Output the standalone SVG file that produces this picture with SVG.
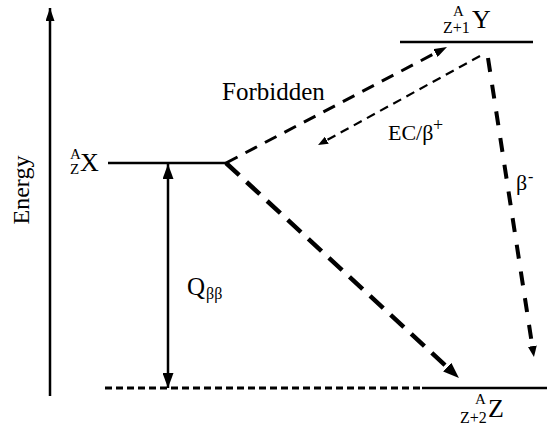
<svg xmlns="http://www.w3.org/2000/svg" width="547" height="428" viewBox="0 0 547 428">
<style>
text{font-family:"Liberation Serif","Times New Roman",serif;fill:#000}
.lvl{stroke:#000;stroke-width:2.5;fill:none}
.dash{stroke:#000;fill:none;stroke-linecap:butt}
</style>
<defs>
<marker id="ahQ" markerUnits="userSpaceOnUse" viewBox="0 0 15 11" refX="15" refY="5.5" markerWidth="15" markerHeight="11" orient="auto-start-reverse"><path d="M0,0 L15,5.5 L0,11 z" fill="#000"/></marker>
<marker id="ahE" markerUnits="userSpaceOnUse" viewBox="0 0 13 9" refX="13" refY="4.5" markerWidth="13" markerHeight="9" orient="auto"><path d="M0,0 L13,4.5 L0,9 z" fill="#000"/></marker>
<marker id="ahF" markerUnits="userSpaceOnUse" viewBox="0 0 13 9" refX="0" refY="4.5" markerWidth="13" markerHeight="9" orient="auto"><path d="M0,0 L13,4.5 L0,9 z" fill="#000"/></marker>
<marker id="ahS" markerUnits="userSpaceOnUse" viewBox="0 0 10 8" refX="0" refY="4" markerWidth="10" markerHeight="8" orient="auto"><path d="M0,0 L10,4 L0,8 z" fill="#000"/></marker>
<marker id="ahB" markerUnits="userSpaceOnUse" viewBox="0 0 16 12" refX="0" refY="6" markerWidth="16" markerHeight="12" orient="auto"><path d="M0,0 L16,6 L0,12 z" fill="#000"/></marker>
<marker id="ahM" markerUnits="userSpaceOnUse" viewBox="0 0 11 9" refX="0" refY="4.5" markerWidth="11" markerHeight="9" orient="auto"><path d="M0,0 L11,4.5 L0,9 z" fill="#000"/></marker>
</defs>

<g id="energy-axis">
<line x1="50" y1="396" x2="50" y2="8" stroke="#000" stroke-width="2.5" marker-end="url(#ahE)"/>
<text transform="translate(29,190) rotate(-90)" text-anchor="middle" font-size="24">Energy</text>
</g>

<g id="level-X">
<line class="lvl" x1="108" y1="163" x2="226" y2="163"/>
<text x="70" y="159" font-size="15">A</text>
<text x="70" y="174" font-size="15">Z</text>
<text x="80" y="171" font-size="26">X</text>
</g>

<g id="level-Y">
<line class="lvl" x1="400" y1="42" x2="533" y2="42"/>
<text x="453" y="16" font-size="15">A</text>
<text x="443" y="33" font-size="16">Z+1</text>
<text x="472" y="28" font-size="26">Y</text>
</g>

<g id="level-Z">
<line class="dash" x1="105" y1="388" x2="422" y2="388" stroke-width="3" stroke-dasharray="7 4"/>
<line class="lvl" x1="422" y1="388" x2="547" y2="388"/>
<text x="475" y="404" font-size="15">A</text>
<text x="460" y="423" font-size="16">Z+2</text>
<text x="488" y="417" font-size="26">Z</text>
</g>

<g id="connectors">
<line id="q-arrow" x1="168" y1="164" x2="168" y2="388" stroke="#000" stroke-width="2.5" marker-start="url(#ahQ)" marker-end="url(#ahQ)"/>
<line id="forbidden" class="dash" x1="226" y1="163" x2="435.5" y2="53" stroke-width="3" stroke-dasharray="13 9" marker-end="url(#ahF)"/>
<line id="ec" class="dash" x1="480" y1="56" x2="326.8" y2="140.2" stroke-width="2.2" stroke-dasharray="9 6" marker-end="url(#ahS)"/>
<line id="bb" class="dash" x1="226" y1="163" x2="447.2" y2="367.1" stroke-width="4.5" stroke-dasharray="18 10" marker-end="url(#ahB)"/>
<line id="beta-minus" class="dash" x1="488" y1="58" x2="532.3" y2="346.1" stroke-width="4" stroke-dasharray="14 13" marker-end="url(#ahM)"/>
</g>

<g id="labels">
<text x="222" y="100" font-size="25">Forbidden</text>
<text x="388" y="140" font-size="22">EC/β</text>
<text x="433" y="131" font-size="18">+</text>
<text x="516" y="190" font-size="22">β</text>
<text x="528" y="182" font-size="16">-</text>
<text x="187" y="295" font-size="25">Q</text>
<text x="206" y="299" font-size="16">ββ</text>
</g>
</svg>
